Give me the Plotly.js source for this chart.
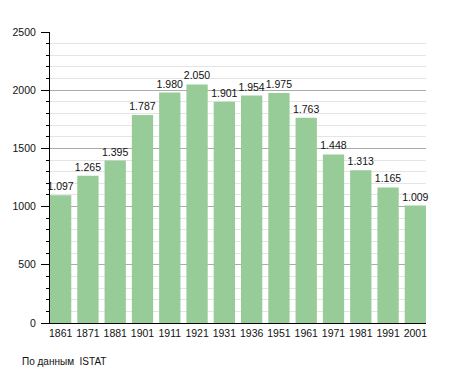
<!DOCTYPE html>
<html><head><meta charset="utf-8">
<script src="https://cdn.plot.ly/plotly-3.0.1.min.js"></script>
<style>body{margin:0;padding:0;background:#fff}#chart{width:455px;height:373px}</style>
</head><body><div id="chart"></div>
<script>
const years = ["1861","1871","1881","1901","1911","1921","1931","1936","1951","1961","1971","1981","1991","2001"];
const population = [1097,1265,1395,1787,1980,2050,1901,1954,1975,1763,1448,1313,1165,1009];
const sourceNote = "По данным  ISTAT";

Plotly.newPlot('chart', [{
  type: 'bar',
  x: years,
  y: population,
  marker: {color: '#97cb97', line: {width: 0}},
  texttemplate: '%{y:,}',
  textposition: 'outside',
  constraintext: 'none',
  cliponaxis: false,
  textfont: {family: 'Liberation Sans, Arial, sans-serif', size: 10.5, color: '#111'},
  hoverinfo: 'none'
}], {
  width: 455, height: 373,
  margin: {l: 50, r: 29, t: 32, b: 50},
  separators: ',.',
  paper_bgcolor: '#fff', plot_bgcolor: '#fff',
  bargap: 0.22,
  showlegend: false,
  font: {family: 'Liberation Sans, Arial, sans-serif', size: 10, color: '#111'},
  xaxis: {
    type: 'category',
    range: [-0.39, 13.39],
    showline: true, linecolor: '#000', linewidth: 1,
    ticks: '', showgrid: false,
    tickfont: {size: 10.5}
  },
  yaxis: {
    range: [0, 2500], dtick: 500,
    showline: true, linecolor: '#000', linewidth: 1,
    ticks: 'outside', ticklen: 8, tickcolor: '#000',
    gridcolor: '#ababab', gridwidth: 1,
    zeroline: false,
    minor: {dtick: 100, showgrid: true, gridcolor: '#e4e4e4', ticks: 'outside', ticklen: 3, tickcolor: '#000'},
    tickfont: {size: 10.5},
    ticklabelstandoff: 3
  },
  annotations: [{
    text: sourceNote, xref: 'paper', yref: 'paper',
    x: -0.08, y: -0.131, xanchor: 'left', yanchor: 'middle',
    showarrow: false, font: {size: 10, color: '#111'}
  }]
}, {displayModeBar: false, staticPlot: true});
</script></body></html>
